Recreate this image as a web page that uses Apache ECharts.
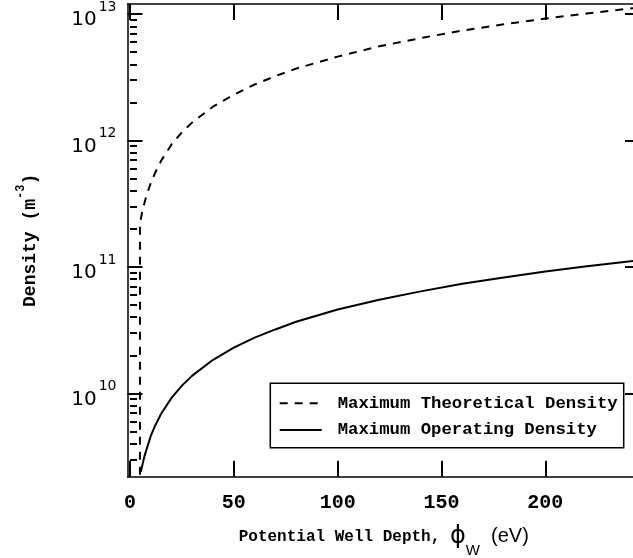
<!DOCTYPE html>
<html>
<head>
<meta charset="utf-8">
<script src="https://cdn.jsdelivr.net/npm/echarts@6/dist/echarts.min.js"></script>
<style>
html,body{margin:0;padding:0;background:#fff;}
#c{width:633px;height:558px;}
</style>
</head>
<body>
<div id="c"></div>
<script>
// ---- data ----
const theoryPhi = [4.8, 4.8, 6, 8, 10, 12, 15, 20, 25, 30, 40, 50, 60, 70, 80, 100, 120, 140, 160, 180, 200, 220, 246];
const theoryDensity = [1e9, 2.2e11, 2.8e11, 3.7e11, 4.6e11, 5.5e11, 6.9e11, 9.3e11, 1.16e12, 1.39e12, 1.85e12, 2.3e12, 2.77e12, 3.23e12, 3.7e12, 4.6e12, 5.55e12, 6.45e12, 7.4e12, 8.3e12, 9.2e12, 1.01e13, 1.13e13];
const operPhi = [5.2, 7, 10, 12, 15, 20, 25, 30, 40, 50, 60, 70, 80, 100, 120, 140, 160, 180, 200, 220, 246];
const operDensity = [2.4e9, 3.2e9, 4.6e9, 5.5e9, 6.9e9, 9.2e9, 1.15e10, 1.38e10, 1.84e10, 2.3e10, 2.76e10, 3.2e10, 3.68e10, 4.6e10, 5.5e10, 6.4e10, 7.35e10, 8.25e10, 9.2e10, 1.01e11, 1.13e11];
const xTicks = [0, 50, 100, 150, 200];
const yMajorTicks = [1e10, 1e11, 1e12, 1e13];
const yMinorTicks = [3e9, 4e9, 5e9, 6e9, 7e9, 8e9, 9e9,
  2e10, 3e10, 4e10, 5e10, 6e10, 7e10, 8e10, 9e10,
  2e11, 3e11, 4e11, 5e11, 6e11, 7e11, 8e11, 9e11,
  2e12, 3e12, 4e12, 5e12, 6e12, 7e12, 8e12, 9e12];
const seriesNames = ['Maximum Theoretical Density', 'Maximum Operating Density'];
const xMin = -1.2, xMax = 245.6, yMin = 2.19e9, yMax = 1.2e13;

const MONO = '"Liberation Mono", "DejaVu Sans Mono", monospace';
const SANS = '"DejaVu Sans", sans-serif';
const ARIAL = '"Liberation Sans", Arial, sans-serif';

const chart = echarts.init(document.getElementById('c'), null, {renderer: 'canvas'});

function xAxisBase(pos, showLabel) {
  return {
    type: 'value', position: pos, min: xMin, max: xMax,
    splitLine: {show: false},
    axisLine: {show: true, onZero: false, lineStyle: {color: '#000', width: 1.5}},
    axisTick: {show: true, inside: true, length: 16, customValues: xTicks, lineStyle: {color: '#000', width: 2}},
    axisLabel: {show: showLabel, customValues: xTicks, margin: 16, color: '#000',
      fontFamily: MONO, fontWeight: 'bold', fontSize: 20}
  };
}
function yAxisBase(pos) {
  return {
    type: 'log', logBase: 10, position: pos, min: yMin, max: yMax,
    splitLine: {show: false}, minorTick: {show: false},
    axisLine: {show: true, onZero: false, lineStyle: {color: '#000', width: 1.5}},
    axisTick: {show: true, inside: true, length: 15, customValues: yMajorTicks, lineStyle: {color: '#000', width: 2}},
    axisLabel: {show: false}
  };
}

const yLeft = yAxisBase('left');
yLeft.axisLabel = {
  show: true, customValues: yMajorTicks, margin: 11, padding: [12, 0, 0, 0],
  formatter: function (v) { return '{b|10}{s|' + Math.round(Math.log10(v)) + '}'; },
  rich: {
    b: {fontFamily: SANS, fontSize: 20, lineHeight: 40, color: '#000'},
    s: {fontFamily: SANS, fontSize: 14, lineHeight: 14, verticalAlign: 'top', padding: [0, 0, 0, 2], color: '#000'}
  }
};
yLeft.name = '{t|Density (m}{s|-3}{t|)}';
yLeft.nameLocation = 'middle';
yLeft.nameGap = 82.5;
yLeft.nameTextStyle = {
  rich: {
    t: {fontFamily: MONO, fontWeight: 'bold', fontSize: 18, lineHeight: 30, color: '#000'},
    s: {fontFamily: MONO, fontWeight: 'bold', fontSize: 12, lineHeight: 12, verticalAlign: 'top', color: '#000'}
  }
};

const yRight = yAxisBase('right');
const yMinor = yAxisBase('left');
yMinor.axisLine = {show: false};
yMinor.axisTick = {show: true, inside: true, length: 7, customValues: yMinorTicks, lineStyle: {color: '#000', width: 2}};

const xBottom = xAxisBase('bottom', true);
xBottom.name = '{t|Potential Well Depth, }{p|ϕ}{w|W}{e|  (eV)}';
xBottom.nameLocation = 'middle';
xBottom.nameGap = 38;
xBottom.nameTextStyle = {
  rich: {
    t: {fontFamily: MONO, fontWeight: 'bold', fontSize: 16, lineHeight: 44, color: '#000'},
    p: {fontFamily: SANS, fontSize: 24, lineHeight: 44, color: '#000'},
    w: {fontFamily: ARIAL, fontSize: 15, lineHeight: 12, verticalAlign: 'bottom', color: '#000'},
    e: {fontFamily: ARIAL, fontSize: 20, lineHeight: 44, color: '#000'}
  }
};
const xTop = xAxisBase('top', false);

chart.setOption({
  backgroundColor: '#fff',
  animation: false,
  grid: {left: 127.5, right: -7, top: 4, bottom: 81.3, outerBoundsMode: 'none', containLabel: false},
  xAxis: [xBottom, xTop],
  yAxis: [yLeft, yRight, yMinor],
  legend: {
    left: 270.3, top: 383.3, orient: 'vertical',
    data: seriesNames,
    itemWidth: 42, itemHeight: 14, itemGap: 6.7,
    padding: [10, 6, 7.7, 8.4],
    borderColor: '#000', borderWidth: 1.5, backgroundColor: '#fff',
    selectedMode: false,
    itemStyle: {opacity: 0, borderWidth: 0},
    textStyle: {fontFamily: MONO, fontWeight: 'bold', fontSize: 17.3, color: '#000', lineHeight: 20, padding: [0, 0, 0, 11]}
  },
  series: [
    {
      name: seriesNames[0], type: 'line', xAxisIndex: 0, yAxisIndex: 0,
      data: theoryPhi.map((x, i) => [x, theoryDensity[i]]),
      showSymbol: false, symbol: 'none', clip: true,
      lineStyle: {color: '#000', width: 2, type: [8, 7]},
      itemStyle: {color: '#000'}
    },
    {
      name: seriesNames[1], type: 'line', xAxisIndex: 0, yAxisIndex: 0,
      data: operPhi.map((x, i) => [x, operDensity[i]]),
      showSymbol: false, symbol: 'none', clip: true,
      lineStyle: {color: '#000', width: 2, type: 'solid'},
      itemStyle: {color: '#000'}
    }
  ]
});
</script>
</body>
</html>
